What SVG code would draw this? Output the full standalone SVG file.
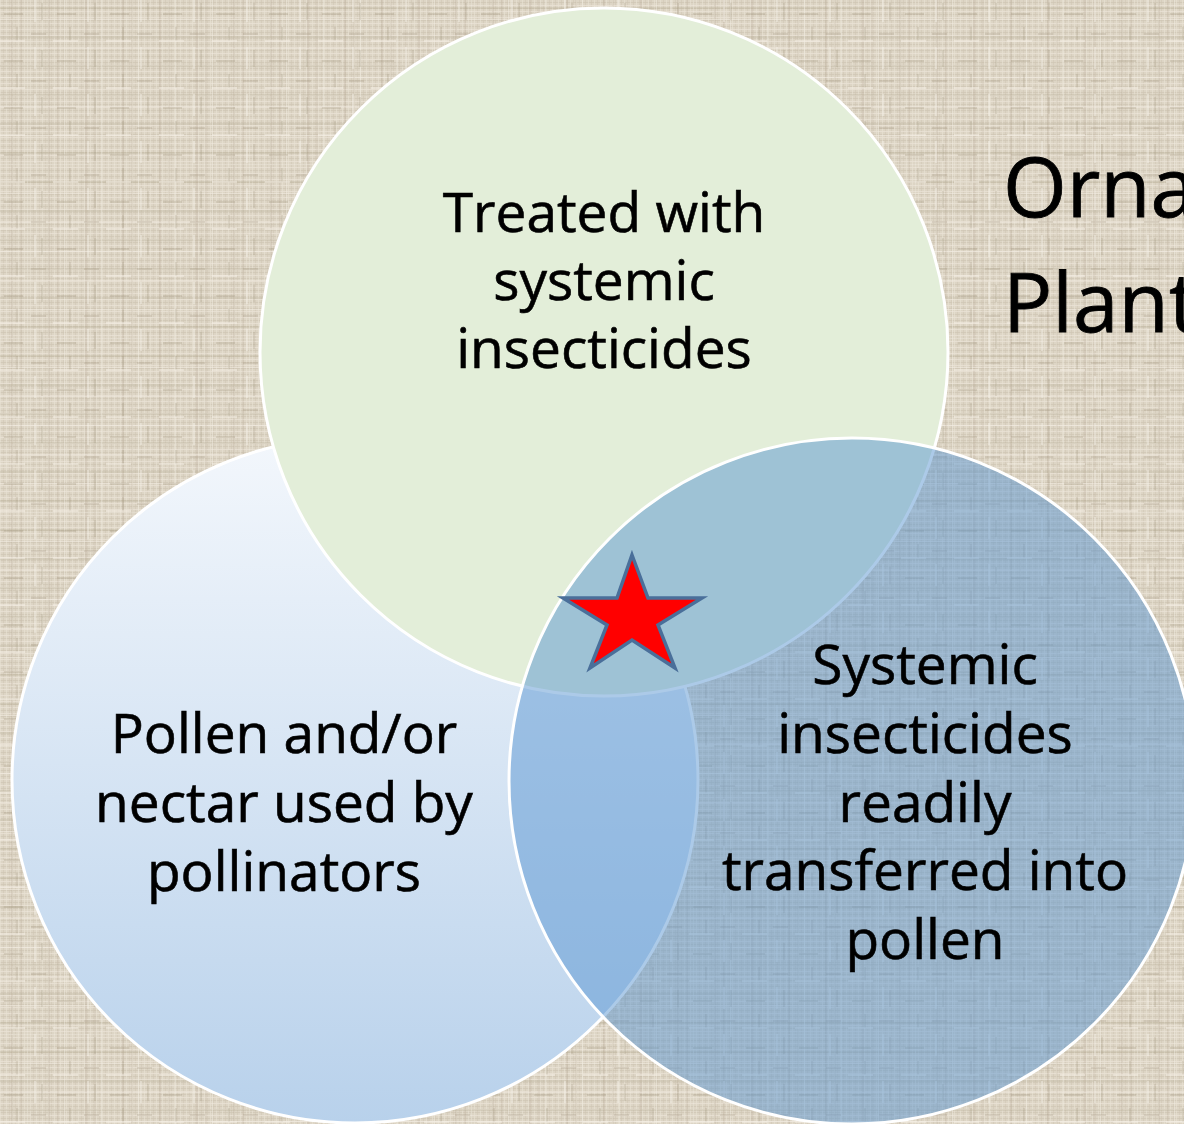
<svg xmlns="http://www.w3.org/2000/svg" width="1184" height="1124" viewBox="0 0 1184 1124">
<style>
.lbl{font-family:"Open Sans","Noto Sans","DejaVu Sans",sans-serif;font-size:55px;fill:#000;stroke:#000;stroke-width:0.6;text-anchor:middle}
.title{font-family:"Open Sans","Noto Sans","DejaVu Sans",sans-serif;font-size:82px;fill:#000;stroke:#000;stroke-width:0.8}
.ring{stroke:#fff;stroke-width:3}
</style>
<defs>
<pattern id="weave1" width="6" height="6" patternUnits="userSpaceOnUse">
<rect width="6" height="6" fill="#ddd5c5"/>
<rect x="0" y="2" width="6" height="1" fill="#cdc3b1" opacity="0.6"/>
<rect x="3" y="0" width="1" height="6" fill="#cfc5b3" opacity="0.5"/>
<rect x="0" y="5" width="6" height="1" fill="#ebe5d8" opacity="0.7"/>
<rect x="0" y="0" width="1" height="6" fill="#e9e2d4" opacity="0.6"/>
</pattern>
<pattern id="weave2" width="37" height="29" patternUnits="userSpaceOnUse">
<rect x="0" y="7" width="37" height="2" fill="#a99d86" opacity="0.22"/>
<rect x="11" y="0" width="2" height="29" fill="#a99d86" opacity="0.2"/>
<rect x="0" y="19" width="37" height="1" fill="#f3eee3" opacity="0.5"/>
<rect x="27" y="0" width="1" height="29" fill="#f3eee3" opacity="0.45"/>
<rect x="20" y="0" width="2" height="29" fill="#b3a893" opacity="0.15"/>
</pattern>
<pattern id="weave3" width="53" height="47" patternUnits="userSpaceOnUse">
<rect x="4" y="13" width="19" height="2" fill="#9c8f78" opacity="0.25"/>
<rect x="31" y="33" width="15" height="2" fill="#9c8f78" opacity="0.22"/>
<rect x="41" y="3" width="2" height="17" fill="#9c8f78" opacity="0.2"/>
<rect x="16" y="27" width="2" height="14" fill="#9c8f78" opacity="0.2"/>
<rect x="0" y="40" width="25" height="2" fill="#f5f0e6" opacity="0.5"/>
<rect x="34" y="0" width="2" height="22" fill="#f5f0e6" opacity="0.45"/>
</pattern>
<linearGradient id="leftGrad" x1="0" y1="0" x2="0" y2="1">
<stop offset="0" stop-color="#f3f7fc"/>
<stop offset="1" stop-color="#b8d1eb"/>
</linearGradient>
</defs>
<rect width="1184" height="1124" fill="url(#weave1)"/>
<rect width="1184" height="1124" fill="url(#weave2)"/>
<rect width="1184" height="1124" fill="url(#weave3)"/>
<g id="title">
<text class="title" x="1003" y="217">Orna</text>
<text class="title" x="1003" y="332">Plant</text>
</g>
<g id="connectors"></g>
<g id="node-pollinators">
<circle class="ring" cx="355" cy="780" r="343" fill="url(#leftGrad)"/>
</g>
<g id="node-treated">
<circle class="ring" cx="604" cy="352" r="344" fill="#e3eed9"/>
</g>
<g id="node-transfer">
<circle class="ring" cx="852" cy="781" r="343" fill="#5a96d2" fill-opacity="0.5"/>
</g>
<g id="labels">
<text class="lbl" x="604" y="232">Treated with</text>
<text class="lbl" x="604" y="300">systemic</text>
<text class="lbl" x="604" y="368">insecticides</text>
<text class="lbl" x="284" y="753">Pollen and/or</text>
<text class="lbl" x="284" y="822">nectar used by</text>
<text class="lbl" x="284" y="891">pollinators</text>
<text class="lbl" x="925" y="684">Systemic</text>
<text class="lbl" x="925" y="753">insecticides</text>
<text class="lbl" x="925" y="822">readily</text>
<text class="lbl" x="925" y="890">transferred into</text>
<text class="lbl" x="925" y="959">pollen</text>
</g>
<g id="node-star">
<polygon points="632,555 648,598 702,598 658,625 675,668 632,640 590,668 607,625 563,598 617,598" fill="#ff0000" stroke="#4a6f9a" stroke-width="3.5" stroke-linejoin="miter"/>
</g>
</svg>
